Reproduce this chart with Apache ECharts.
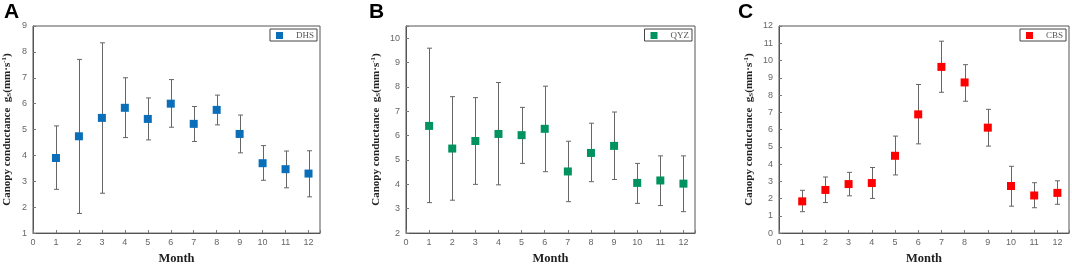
<!DOCTYPE html>
<html>
<head>
<meta charset="utf-8">
<script src="https://cdn.jsdelivr.net/npm/echarts@6/dist/echarts.min.js"></script>
<style>
  html, body { margin: 0; padding: 0; background: #fff; }
  #chart { width: 1072px; height: 270px; }
</style>
</head>
<body>
<div id="chart"></div>
<script>
const months = [1, 2, 3, 4, 5, 6, 7, 8, 9, 10, 11, 12]

// DHS
const dhsMean = [3.9, 4.74, 5.45, 5.84, 5.41, 6.0, 5.22, 5.76, 4.83, 3.7, 3.47, 3.3]
const dhsUpper = [5.14, 7.71, 8.35, 7.0, 6.22, 6.93, 5.89, 6.33, 5.56, 4.38, 4.17, 4.18]
const dhsLower = [2.69, 1.76, 2.54, 4.69, 4.6, 5.09, 4.54, 5.18, 4.1, 3.04, 2.75, 2.4]

// QYZ
const qyzMean = [6.4, 5.47, 5.78, 6.07, 6.02, 6.28, 4.53, 5.29, 5.58, 4.06, 4.16, 4.03]
const qyzUpper = [9.59, 7.6, 7.56, 8.18, 7.16, 8.03, 5.77, 6.51, 6.97, 4.86, 5.17, 5.17]
const qyzLower = [3.25, 3.35, 4.0, 3.98, 4.86, 4.52, 3.29, 4.11, 4.2, 3.22, 3.13, 2.88]

// CBS
const cbsMean = [1.84, 2.5, 2.84, 2.9, 4.48, 6.88, 9.63, 8.73, 6.11, 2.73, 2.18, 2.33]
const cbsUpper = [2.48, 3.25, 3.52, 3.8, 5.62, 8.61, 11.12, 9.76, 7.17, 3.87, 2.92, 3.03]
const cbsLower = [1.24, 1.77, 2.16, 2.01, 3.37, 5.17, 8.16, 7.64, 5.04, 1.56, 1.47, 1.67]

const panelNames = ['A', 'B', 'C']
const siteNames = ['DHS', 'QYZ', 'CBS']

const panels = [
  { left: 32, width: 288, yMin: 1, yMax: 9, nameGap: 20, color: '#0a6fb8',
    mean: dhsMean, upper: dhsUpper, lower: dhsLower, letterX: 4 },
  { left: 406, width: 289, yMin: 2, yMax: 10.5, nameGap: 24, color: '#00935f',
    mean: qyzMean, upper: qyzUpper, lower: qyzLower, letterX: 369 },
  { left: 779, width: 290, yMin: 0, yMax: 12, nameGap: 24, color: '#ff0000',
    mean: cbsMean, upper: cbsUpper, lower: cbsLower, letterX: 738 }
]

const axisColor = '#555'
const labelStyle = { color: '#666', fontSize: 9, fontFamily: 'Liberation Sans, Arial' }

function errorBar(params, api) {
  const x = api.value(0)
  const lo = api.coord([x, api.value(1)])
  const hi = api.coord([x, api.value(2)])
  const cx = Math.round(lo[0]) + 0.5
  const w = 2.5
  const style = { stroke: '#666', lineWidth: 1 }
  return {
    type: 'group',
    children: [
      { type: 'line', shape: { x1: cx, y1: lo[1], x2: cx, y2: hi[1] }, style },
      { type: 'line', shape: { x1: cx - w, y1: lo[1], x2: cx + w, y2: lo[1] }, style },
      { type: 'line', shape: { x1: cx - w, y1: hi[1], x2: cx + w, y2: hi[1] }, style }
    ]
  }
}

const chart = echarts.init(document.getElementById('chart'))

const option = {
  animation: false,
  backgroundColor: '#fff',
  grid: [],
  xAxis: [],
  yAxis: [],
  legend: [],
  series: [],
  graphic: []
}

panels.forEach((p, i) => {
  option.grid.push({
    left: p.left, width: p.width, top: 26, bottom: 31,
    show: true, borderColor: axisColor, borderWidth: 1
  })
  option.xAxis.push({
    gridIndex: i,
    type: 'value',
    min: 0,
    max: 12.5,
    interval: 1,
    name: 'Month',
    nameLocation: 'middle',
    nameGap: 18,
    nameTextStyle: { fontFamily: 'Liberation Serif', fontWeight: 'bold', fontSize: 12.5, color: '#222' },
    axisLine: { lineStyle: { color: axisColor } },
    axisTick: { inside: true, length: 3, lineStyle: { color: '#777' } },
    axisLabel: Object.assign({ margin: 5, formatter: v => Number.isInteger(v) ? v : '' }, labelStyle),
    splitLine: { show: false }
  })
  option.yAxis.push({
    gridIndex: i,
    type: 'value',
    min: p.yMin,
    max: p.yMax,
    interval: 1,
    name: 'Canopy conductance  {g|g}{sub|S}{g|(mm·s}{sup|-1}{g|)}',
    nameLocation: 'middle',
    nameGap: p.nameGap,
    nameRotate: 90,
    nameTextStyle: {
      fontFamily: 'Liberation Serif', fontWeight: 'bold', fontSize: 11, color: '#222',
      rich: {
        g: { fontFamily: 'Liberation Serif', fontWeight: 'bold', fontSize: 11, color: '#222' },
        sub: { fontFamily: 'Liberation Serif', fontWeight: 'bold', fontSize: 7, color: '#222', verticalAlign: 'bottom', padding: [4, 0, 0, 0] },
        sup: { fontFamily: 'Liberation Serif', fontWeight: 'bold', fontSize: 7, color: '#222', verticalAlign: 'top', padding: [0, 0, 5, 0] }
      }
    },
    axisLine: { lineStyle: { color: axisColor } },
    axisTick: { inside: true, length: 3, lineStyle: { color: '#777' } },
    axisLabel: Object.assign({ margin: 6, formatter: v => Number.isInteger(v) ? v : '' }, labelStyle),
    splitLine: { show: false }
  })
  option.legend.push({
    data: [siteNames[i]],
    right: 1072 - p.left - p.width + 3,
    top: 29,
    orient: 'vertical',
    borderColor: '#444',
    borderWidth: 1,
    borderRadius: 0,
    padding: [2, 3, 1, 6],
    itemWidth: 7,
    itemHeight: 7,
    icon: 'rect',
    textStyle: { fontFamily: 'Liberation Serif', fontSize: 9, color: '#555', padding: [0, 0, 0, 8] }
  })
  option.series.push({
    type: 'custom',
    name: siteNames[i] + ' error',
    xAxisIndex: i,
    yAxisIndex: i,
    renderItem: errorBar,
    data: months.map((m, k) => [m, p.lower[k], p.upper[k]]),
    z: 2
  })
  option.series.push({
    type: 'scatter',
    name: siteNames[i],
    xAxisIndex: i,
    yAxisIndex: i,
    symbol: 'rect',
    symbolSize: 8,
    itemStyle: { color: p.color, opacity: 1 },
    data: months.map((m, k) => [m, p.mean[k]]),
    z: 3
  })
  option.graphic.push({
    type: 'text',
    left: p.letterX,
    top: 2,
    style: { text: panelNames[i], font: 'bold 21px "Liberation Sans", Arial', fill: '#000' }
  })
})

chart.setOption(option)
</script>
</body>
</html>
